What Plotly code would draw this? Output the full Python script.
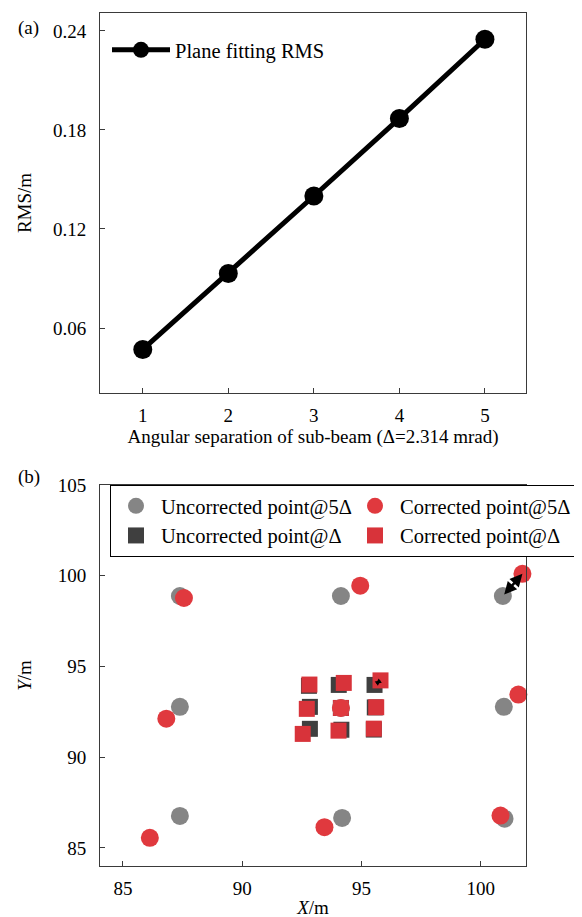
import plotly.graph_objects as go

# ---------------- data ----------------
# panel (a)
sep_multiple = [1, 2, 3, 4, 5]
plane_rms = [0.047, 0.093, 0.140, 0.187, 0.235]

# panel (b)  (order: TL, TM, TR, ML, MM, MR, BL, BM, BR)
unc5_x = [87.39, 94.14, 100.93, 87.39, 94.14, 100.97, 87.39, 94.19, 101.00]
unc5_y = [98.88, 98.88, 98.88, 92.77, 92.71, 92.77, 86.76, 86.65, 86.61]
cor5_x = [87.56, 94.95, 101.75, 86.82, 94.14, 101.58, 86.13, 93.45, 100.83]
cor5_y = [98.77, 99.45, 100.10, 92.12, 92.71, 93.45, 85.55, 86.14, 86.78]
unc1_x = [92.80, 94.05, 95.55, 92.84, 94.14, 95.56, 92.84, 94.16, 95.52]
unc1_y = [93.93, 93.98, 93.98, 92.77, 92.71, 92.74, 91.56, 91.51, 91.52]
cor1_x = [92.82, 94.26, 95.80, 92.71, 94.14, 95.62, 92.54, 94.04, 95.52]
cor1_y = [94.00, 94.09, 94.23, 92.66, 92.71, 92.75, 91.28, 91.46, 91.57]

a_xticks = [1, 2, 3, 4, 5]
a_yticks = [0.06, 0.12, 0.18, 0.24]
a_yticktext = ["0.06", "0.12", "0.18", "0.24"]
b_xticks = [85, 90, 95, 100]
b_yticks = [85, 90, 95, 100, 105]

# ---------------- style ----------------
FONT = "Liberation Serif, Times New Roman, serif"
FS_TICK = 19
FS_TITLE = 19
FS_LEG = 20.5
AXC = "#3a3a3a"
GRAY = "#858585"
RED = "#e0393e"
DARK = "#3f3f3f"
RED_SQ = "#d8333a"

fig = go.Figure()

fig.add_trace(go.Scatter(
    x=sep_multiple, y=plane_rms, mode="lines+markers", name="Plane fitting RMS",
    line=dict(color="black", width=5), marker=dict(color="black", size=19),
    xaxis="x", yaxis="y", legend="legend", showlegend=True))

fig.add_trace(go.Scatter(
    x=unc1_x, y=unc1_y, mode="markers", name="Uncorrected point@Δ",
    marker=dict(symbol="square", color=DARK, size=16),
    xaxis="x2", yaxis="y2", legend="legend2", legendrank=3, cliponaxis=False))
fig.add_trace(go.Scatter(
    x=cor1_x, y=cor1_y, mode="markers", name="Corrected point@Δ",
    marker=dict(symbol="square", color=RED_SQ, size=16),
    xaxis="x2", yaxis="y2", legend="legend2", legendrank=4, cliponaxis=False))
fig.add_trace(go.Scatter(
    x=unc5_x, y=unc5_y, mode="markers", name="Uncorrected point@5Δ",
    marker=dict(symbol="circle", color=GRAY, size=18),
    xaxis="x2", yaxis="y2", legend="legend2", legendrank=1, cliponaxis=False))
fig.add_trace(go.Scatter(
    x=cor5_x, y=cor5_y, mode="markers", name="Corrected point@5Δ",
    marker=dict(symbol="circle", color=RED, size=18),
    xaxis="x2", yaxis="y2", legend="legend2", legendrank=2, cliponaxis=False))

axis_common = dict(showline=True, mirror=True, linecolor=AXC, linewidth=1,
                   ticks="inside", ticklen=5, tickcolor=AXC, tickwidth=1,
                   showgrid=False, zeroline=False, automargin=False,
                   tickfont=dict(family=FONT, size=FS_TICK, color="black"))

XDOM = [92 / 582, 518 / 582]

fig.update_layout(
    width=582, height=917,
    margin=dict(l=0, r=0, t=5, b=59, autoexpand=False),
    showlegend=True,
    paper_bgcolor="white", plot_bgcolor="white",
    font=dict(family=FONT, size=FS_TITLE, color="black"),
    xaxis=dict(domain=XDOM, anchor="y", range=[0.5, 5.48], tickvals=a_xticks,
               ticklabelstandoff=5,
               title=dict(text="Angular separation of sub-beam (Δ=2.314 mrad)",
                          font=dict(family=FONT, size=FS_TITLE), standoff=4),
               **axis_common),
    yaxis=dict(domain=[0.5545, 1], anchor="x", range=[0.0206, 0.2509],
               tickvals=a_yticks, ticktext=a_yticktext, ticklabelstandoff=9,
               title=dict(text="RMS/m", font=dict(family=FONT, size=FS_TITLE), standoff=16),
               **axis_common),
    xaxis2=dict(domain=XDOM, anchor="y2", range=[84.04, 101.9], tickvals=b_xticks,
                ticklabelstandoff=5,
                title=dict(text="<i>X</i>/m", font=dict(family=FONT, size=FS_TITLE), standoff=2),
                **axis_common),
    yaxis2=dict(domain=[0, 0.4467], anchor="x2", range=[84.0, 105.0],
                tickvals=b_yticks, ticklabelstandoff=9,
                title=dict(text="<i>Y</i>/m", font=dict(family=FONT, size=FS_TITLE), standoff=21),
                **axis_common),
    legend=dict(x=99 / 582, y=0.9801, xanchor="left", yanchor="top", visible=True,
                bgcolor="rgba(0,0,0,0)", itemwidth=58,
                font=dict(family=FONT, size=FS_LEG)),
    legend2=dict(orientation="h", x=102 / 582, y=0.4467, xanchor="left", yanchor="top",
                 visible=True, bgcolor="white", bordercolor="black", borderwidth=1,
                 itemwidth=40, entrywidth=184, entrywidthmode="pixels",
                 font=dict(family=FONT, size=FS_LEG)),
    annotations=[
        dict(text="(a)", xref="paper", yref="paper", x=21 / 582, y=0.9825,
             xanchor="center", yanchor="middle",
             showarrow=False, font=dict(family=FONT, size=FS_TITLE)),
        dict(text="(b)", xref="paper", yref="paper", x=21 / 582, y=0.4560,
             xanchor="center", yanchor="middle",
             showarrow=False, font=dict(family=FONT, size=FS_TITLE)),
        dict(text="", xref="x2", yref="y2", axref="x2", ayref="y2",
             x=cor5_x[2], y=cor5_y[2], ax=unc5_x[2], ay=unc5_y[2],
             showarrow=True, arrowhead=2, startarrowhead=2, arrowside="end+start",
             arrowwidth=2.5, arrowsize=1, arrowcolor="black"),
        dict(text="", xref="x2", yref="y2", axref="x2", ayref="y2",
             x=cor1_x[2], y=cor1_y[2], ax=unc1_x[2], ay=unc1_y[2],
             showarrow=True, arrowhead=2, startarrowhead=2, arrowside="end+start",
             arrowwidth=1.5, arrowsize=0.7, arrowcolor="black"),
    ],
)

fig.write_html("out.html")
